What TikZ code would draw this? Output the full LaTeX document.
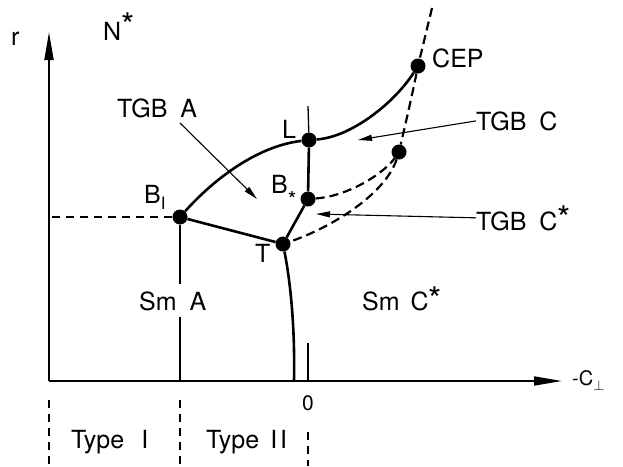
\documentclass[tikz,border=0pt]{standalone}
\usepackage{fontspec}
\setmainfont{TeX Gyre Heros}
\usetikzlibrary{arrows.meta}

\newcommand\upstar[1]{\raisebox{#1}{\fontsize{34}{36}\selectfont *}}

\begin{document}
\begin{tikzpicture}[x=1pt, y=-1pt,
  axis/.style={line width=1.8pt, -{Triangle[length=28pt, width=9pt]}},
  phase/.style={line width=2.6pt},
  meta/.style={line width=2.2pt, dash pattern=on 9pt off 5pt},
  guide/.style={line width=1.3pt},
  pointer/.style={line width=1.1pt, -{Triangle[length=14pt, width=6pt]}},
  typeline/.style={line width=1.5pt, dash pattern=on 8pt off 6pt},
  dot/.style={circle, fill=black, inner sep=0pt, minimum size=15pt},
  lbl/.style={font=\fontsize{25}{28}\selectfont, inner sep=0pt, anchor=base west}
]
\useasboundingbox (0,0) rectangle (623,466);

% axes
\coordinate (O) at (49,381);
\coordinate (ytip) at (49,32);
\coordinate (xtip) at (562,381);
\draw[axis] (O) -- (ytip);
\draw[axis] (O) -- (xtip);

% special points
\node[dot] (B1) at (180,217) {};
\node[dot] (T) at (283,244) {};
\node[dot] (Bs) at (308,199) {};
\node[dot] (L) at (309,140) {};
\node[dot] (CEP) at (418,66) {};
\node[dot] (P) at (399,152) {};
\coordinate (Ltop) at (308,106);
\coordinate (top) at (432,8);
\coordinate (Tend) at (294,381);
\coordinate (zero) at (308,381);
\coordinate (ztick) at (308,343);

% phase lines
\draw[phase] (B1) .. controls (215,178) and (258,146) .. (L);
\draw[phase] (L) .. controls (352,137) and (395,102) .. (CEP);
\draw[phase] (B1) -- (T);
\draw[phase] (T) -- (Bs);
\draw[phase] (Bs) -- (L);
\draw[phase] (T) .. controls (291,285) and (295,330) .. (Tend);
\draw[guide] (L) -- (Ltop);
\draw[guide] (zero) -- (ztick);

% dashed lines
\draw[meta] (top) -- (CEP);
\draw[meta] (CEP) .. controls (410,105) and (404,130) .. (P);
\draw[meta] (P) .. controls (385,195) and (330,228) .. (T);
\draw[meta] (Bs) .. controls (350,196) and (385,172) .. (P);
\draw[typeline] (B1) -- (B1 -| O);
\draw[guide] (B1) -- (B1 |- O);

% type regions
\foreach \xx/\yy in {49/400, 180/400, 308/432}
  \draw[typeline] (\xx,\yy) -- (\xx,466);

% labels
\node[lbl] (rlab) at (11,45) {r};
\node[lbl] (Nlab) at (103,40) {N\upstar{3pt}};
\node[lbl] (B1lab) at (144,203) {B\raisebox{-6pt}{\fontsize{17}{20}\selectfont I}};
\node[lbl] (Bslab) at (271,193) {B\raisebox{-14pt}{\fontsize{22}{24}\selectfont *}};
\node[lbl] (Llab) at (282,138) {L};
\node[lbl] (Tlab) at (255,262) {T};
\node[lbl] (CEPlab) at (432,67) {CEP};
\node[lbl] (tgbA) at (117,117) {TGB\hspace{13pt}A};
\node[lbl] (tgbC) at (476,130) {TGB\hspace{13pt}C};
\node[lbl] (tgbCs) at (476,230) {TGB\hspace{13pt}C\upstar{0pt}};
\node[lbl, fill=white, inner xsep=1pt, inner ysep=7pt] (smA) at (138,310) {Sm\hspace{13pt}A};
\node[lbl] (smC) at (362,310) {Sm\hspace{11pt}C\upstar{-1pt}};
\node[lbl] (typeI) at (71,448) {Type\hspace{17pt}I};
\node[lbl] (typeII) at (206,448) {Type\hspace{11pt}I\hspace{3pt}I};
\node[lbl, anchor=base, font=\fontsize{21}{24}\selectfont] (zlab) at (308,410) {0};
\node[lbl, font=\fontsize{20}{22}\selectfont] (clab) at (572,385) {-C\raisebox{-5pt}{$\scriptstyle\perp$}};

% pointers
\coordinate (aA) at (180,123);
\coordinate (aAtip) at (257,199);
\coordinate (aCtip) at (358,140);
\coordinate (aCstip) at (316,214);
\draw[pointer] (aA) -- (aAtip);
\draw[pointer] (tgbC.west) -- (aCtip);
\draw[pointer] (tgbCs.west) -- (aCstip);
\end{tikzpicture}
\end{document}
